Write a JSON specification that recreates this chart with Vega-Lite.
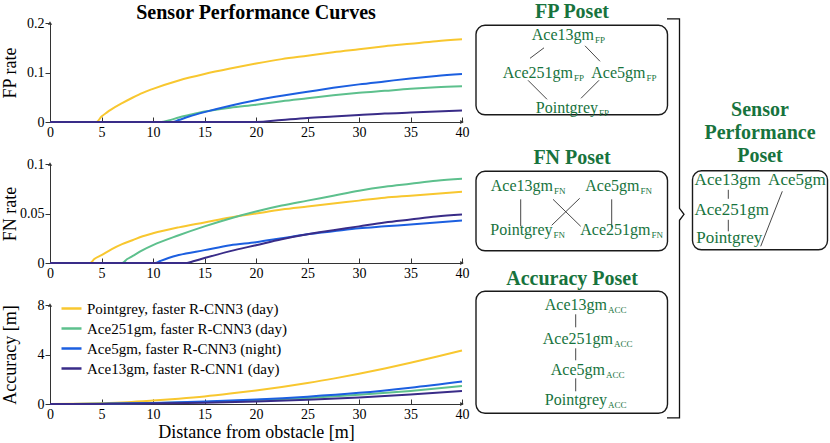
{
  "$schema": "https://vega.github.io/schema/vega-lite/v6.json",
  "padding": {"left": 0, "right": 0, "top": 2, "bottom": 0},
  "background": "#ffffff",
  "config": {
    "view": {"stroke": null},
    "axis": {"labelFont": "Liberation Serif", "titleFont": "Liberation Serif", "labelFontSize": 14, "titleFontSize": 18, "titleFontWeight": "normal", "grid": false, "domainColor": "#333333", "tickColor": "#333333", "labelColor": "#000000", "titleColor": "#000000", "labelOverlap": false}
  },
  "datasets": {
    "fp": [
      {"s": "Pointgrey, faster R-CNN3 (day)", "d": 0, "v": 0}, {"s": "Pointgrey, faster R-CNN3 (day)", "d": 4.5, "v": 0}, {"s": "Pointgrey, faster R-CNN3 (day)", "d": 5, "v": 0.011}, {"s": "Pointgrey, faster R-CNN3 (day)", "d": 5.5, "v": 0.019}, {"s": "Pointgrey, faster R-CNN3 (day)", "d": 6, "v": 0.026}, {"s": "Pointgrey, faster R-CNN3 (day)", "d": 7, "v": 0.038}, {"s": "Pointgrey, faster R-CNN3 (day)", "d": 8, "v": 0.049}, {"s": "Pointgrey, faster R-CNN3 (day)", "d": 9, "v": 0.059}, {"s": "Pointgrey, faster R-CNN3 (day)", "d": 10, "v": 0.067}, {"s": "Pointgrey, faster R-CNN3 (day)", "d": 12.5, "v": 0.084}, {"s": "Pointgrey, faster R-CNN3 (day)", "d": 15, "v": 0.097}, {"s": "Pointgrey, faster R-CNN3 (day)", "d": 17.5, "v": 0.108}, {"s": "Pointgrey, faster R-CNN3 (day)", "d": 20, "v": 0.118}, {"s": "Pointgrey, faster R-CNN3 (day)", "d": 22.5, "v": 0.127}, {"s": "Pointgrey, faster R-CNN3 (day)", "d": 25, "v": 0.134}, {"s": "Pointgrey, faster R-CNN3 (day)", "d": 27.5, "v": 0.141}, {"s": "Pointgrey, faster R-CNN3 (day)", "d": 30, "v": 0.147}, {"s": "Pointgrey, faster R-CNN3 (day)", "d": 32.5, "v": 0.153}, {"s": "Pointgrey, faster R-CNN3 (day)", "d": 35, "v": 0.158}, {"s": "Pointgrey, faster R-CNN3 (day)", "d": 37.5, "v": 0.163}, {"s": "Pointgrey, faster R-CNN3 (day)", "d": 40, "v": 0.167},
      {"s": "Ace251gm, faster R-CNN3 (day)", "d": 0, "v": 0}, {"s": "Ace251gm, faster R-CNN3 (day)", "d": 10.8, "v": 0}, {"s": "Ace251gm, faster R-CNN3 (day)", "d": 11.5, "v": 0.003}, {"s": "Ace251gm, faster R-CNN3 (day)", "d": 12.5, "v": 0.009}, {"s": "Ace251gm, faster R-CNN3 (day)", "d": 13.5, "v": 0.014}, {"s": "Ace251gm, faster R-CNN3 (day)", "d": 15, "v": 0.021}, {"s": "Ace251gm, faster R-CNN3 (day)", "d": 17.5, "v": 0.029}, {"s": "Ace251gm, faster R-CNN3 (day)", "d": 20, "v": 0.035}, {"s": "Ace251gm, faster R-CNN3 (day)", "d": 22.5, "v": 0.042}, {"s": "Ace251gm, faster R-CNN3 (day)", "d": 25, "v": 0.048}, {"s": "Ace251gm, faster R-CNN3 (day)", "d": 27.5, "v": 0.054}, {"s": "Ace251gm, faster R-CNN3 (day)", "d": 30, "v": 0.059}, {"s": "Ace251gm, faster R-CNN3 (day)", "d": 32.5, "v": 0.063}, {"s": "Ace251gm, faster R-CNN3 (day)", "d": 35, "v": 0.067}, {"s": "Ace251gm, faster R-CNN3 (day)", "d": 37.5, "v": 0.07}, {"s": "Ace251gm, faster R-CNN3 (day)", "d": 40, "v": 0.072},
      {"s": "Ace5gm, faster R-CNN3 (night)", "d": 0, "v": 0}, {"s": "Ace5gm, faster R-CNN3 (night)", "d": 11.9, "v": 0}, {"s": "Ace5gm, faster R-CNN3 (night)", "d": 12.5, "v": 0.004}, {"s": "Ace5gm, faster R-CNN3 (night)", "d": 13.5, "v": 0.011}, {"s": "Ace5gm, faster R-CNN3 (night)", "d": 15, "v": 0.02}, {"s": "Ace5gm, faster R-CNN3 (night)", "d": 17.5, "v": 0.033}, {"s": "Ace5gm, faster R-CNN3 (night)", "d": 20, "v": 0.044}, {"s": "Ace5gm, faster R-CNN3 (night)", "d": 22.5, "v": 0.053}, {"s": "Ace5gm, faster R-CNN3 (night)", "d": 25, "v": 0.061}, {"s": "Ace5gm, faster R-CNN3 (night)", "d": 27.5, "v": 0.069}, {"s": "Ace5gm, faster R-CNN3 (night)", "d": 30, "v": 0.076}, {"s": "Ace5gm, faster R-CNN3 (night)", "d": 32.5, "v": 0.082}, {"s": "Ace5gm, faster R-CNN3 (night)", "d": 35, "v": 0.088}, {"s": "Ace5gm, faster R-CNN3 (night)", "d": 37.5, "v": 0.093}, {"s": "Ace5gm, faster R-CNN3 (night)", "d": 40, "v": 0.097},
      {"s": "Ace13gm, faster R-CNN1 (day)", "d": 0, "v": 0}, {"s": "Ace13gm, faster R-CNN1 (day)", "d": 20, "v": 0}, {"s": "Ace13gm, faster R-CNN1 (day)", "d": 22.5, "v": 0.004}, {"s": "Ace13gm, faster R-CNN1 (day)", "d": 25, "v": 0.008}, {"s": "Ace13gm, faster R-CNN1 (day)", "d": 27.5, "v": 0.011}, {"s": "Ace13gm, faster R-CNN1 (day)", "d": 30, "v": 0.014}, {"s": "Ace13gm, faster R-CNN1 (day)", "d": 32.5, "v": 0.017}, {"s": "Ace13gm, faster R-CNN1 (day)", "d": 35, "v": 0.019}, {"s": "Ace13gm, faster R-CNN1 (day)", "d": 37.5, "v": 0.021}, {"s": "Ace13gm, faster R-CNN1 (day)", "d": 40, "v": 0.023}
    ],
    "fn": [
      {"s": "Pointgrey, faster R-CNN3 (day)", "d": 0, "v": 0}, {"s": "Pointgrey, faster R-CNN3 (day)", "d": 3.9, "v": 0}, {"s": "Pointgrey, faster R-CNN3 (day)", "d": 4.3, "v": 0.004}, {"s": "Pointgrey, faster R-CNN3 (day)", "d": 5, "v": 0.008}, {"s": "Pointgrey, faster R-CNN3 (day)", "d": 6, "v": 0.014}, {"s": "Pointgrey, faster R-CNN3 (day)", "d": 7, "v": 0.019}, {"s": "Pointgrey, faster R-CNN3 (day)", "d": 8, "v": 0.023}, {"s": "Pointgrey, faster R-CNN3 (day)", "d": 9, "v": 0.027}, {"s": "Pointgrey, faster R-CNN3 (day)", "d": 10, "v": 0.03}, {"s": "Pointgrey, faster R-CNN3 (day)", "d": 12.5, "v": 0.036}, {"s": "Pointgrey, faster R-CNN3 (day)", "d": 15, "v": 0.041}, {"s": "Pointgrey, faster R-CNN3 (day)", "d": 17.5, "v": 0.046}, {"s": "Pointgrey, faster R-CNN3 (day)", "d": 20, "v": 0.05}, {"s": "Pointgrey, faster R-CNN3 (day)", "d": 22.5, "v": 0.054}, {"s": "Pointgrey, faster R-CNN3 (day)", "d": 25, "v": 0.057}, {"s": "Pointgrey, faster R-CNN3 (day)", "d": 27.5, "v": 0.06}, {"s": "Pointgrey, faster R-CNN3 (day)", "d": 30, "v": 0.063}, {"s": "Pointgrey, faster R-CNN3 (day)", "d": 32.5, "v": 0.066}, {"s": "Pointgrey, faster R-CNN3 (day)", "d": 35, "v": 0.068}, {"s": "Pointgrey, faster R-CNN3 (day)", "d": 37.5, "v": 0.07}, {"s": "Pointgrey, faster R-CNN3 (day)", "d": 40, "v": 0.072},
      {"s": "Ace251gm, faster R-CNN3 (day)", "d": 0, "v": 0}, {"s": "Ace251gm, faster R-CNN3 (day)", "d": 7, "v": 0}, {"s": "Ace251gm, faster R-CNN3 (day)", "d": 7.5, "v": 0.004}, {"s": "Ace251gm, faster R-CNN3 (day)", "d": 8, "v": 0.007}, {"s": "Ace251gm, faster R-CNN3 (day)", "d": 9, "v": 0.013}, {"s": "Ace251gm, faster R-CNN3 (day)", "d": 10, "v": 0.018}, {"s": "Ace251gm, faster R-CNN3 (day)", "d": 12.5, "v": 0.028}, {"s": "Ace251gm, faster R-CNN3 (day)", "d": 15, "v": 0.037}, {"s": "Ace251gm, faster R-CNN3 (day)", "d": 17.5, "v": 0.045}, {"s": "Ace251gm, faster R-CNN3 (day)", "d": 20, "v": 0.052}, {"s": "Ace251gm, faster R-CNN3 (day)", "d": 22.5, "v": 0.058}, {"s": "Ace251gm, faster R-CNN3 (day)", "d": 25, "v": 0.063}, {"s": "Ace251gm, faster R-CNN3 (day)", "d": 27.5, "v": 0.068}, {"s": "Ace251gm, faster R-CNN3 (day)", "d": 30, "v": 0.073}, {"s": "Ace251gm, faster R-CNN3 (day)", "d": 32.5, "v": 0.077}, {"s": "Ace251gm, faster R-CNN3 (day)", "d": 35, "v": 0.08}, {"s": "Ace251gm, faster R-CNN3 (day)", "d": 37.5, "v": 0.083}, {"s": "Ace251gm, faster R-CNN3 (day)", "d": 40, "v": 0.085},
      {"s": "Ace5gm, faster R-CNN3 (night)", "d": 0, "v": 0}, {"s": "Ace5gm, faster R-CNN3 (night)", "d": 10.2, "v": 0}, {"s": "Ace5gm, faster R-CNN3 (night)", "d": 10.7, "v": 0.002}, {"s": "Ace5gm, faster R-CNN3 (night)", "d": 11.5, "v": 0.005}, {"s": "Ace5gm, faster R-CNN3 (night)", "d": 12.5, "v": 0.008}, {"s": "Ace5gm, faster R-CNN3 (night)", "d": 15, "v": 0.013}, {"s": "Ace5gm, faster R-CNN3 (night)", "d": 17.5, "v": 0.018}, {"s": "Ace5gm, faster R-CNN3 (night)", "d": 20, "v": 0.021}, {"s": "Ace5gm, faster R-CNN3 (night)", "d": 22.5, "v": 0.025}, {"s": "Ace5gm, faster R-CNN3 (night)", "d": 25, "v": 0.029}, {"s": "Ace5gm, faster R-CNN3 (night)", "d": 27.5, "v": 0.032}, {"s": "Ace5gm, faster R-CNN3 (night)", "d": 30, "v": 0.035}, {"s": "Ace5gm, faster R-CNN3 (night)", "d": 32.5, "v": 0.037}, {"s": "Ace5gm, faster R-CNN3 (night)", "d": 35, "v": 0.039}, {"s": "Ace5gm, faster R-CNN3 (night)", "d": 37.5, "v": 0.041}, {"s": "Ace5gm, faster R-CNN3 (night)", "d": 40, "v": 0.043},
      {"s": "Ace13gm, faster R-CNN1 (day)", "d": 0, "v": 0}, {"s": "Ace13gm, faster R-CNN1 (day)", "d": 13.3, "v": 0}, {"s": "Ace13gm, faster R-CNN1 (day)", "d": 14, "v": 0.002}, {"s": "Ace13gm, faster R-CNN1 (day)", "d": 15, "v": 0.005}, {"s": "Ace13gm, faster R-CNN1 (day)", "d": 17.5, "v": 0.012}, {"s": "Ace13gm, faster R-CNN1 (day)", "d": 20, "v": 0.018}, {"s": "Ace13gm, faster R-CNN1 (day)", "d": 22.5, "v": 0.024}, {"s": "Ace13gm, faster R-CNN1 (day)", "d": 25, "v": 0.029}, {"s": "Ace13gm, faster R-CNN1 (day)", "d": 27.5, "v": 0.033}, {"s": "Ace13gm, faster R-CNN1 (day)", "d": 30, "v": 0.037}, {"s": "Ace13gm, faster R-CNN1 (day)", "d": 32.5, "v": 0.041}, {"s": "Ace13gm, faster R-CNN1 (day)", "d": 35, "v": 0.044}, {"s": "Ace13gm, faster R-CNN1 (day)", "d": 37.5, "v": 0.047}, {"s": "Ace13gm, faster R-CNN1 (day)", "d": 40, "v": 0.049}
    ],
    "acc": [
      {"s": "Pointgrey, faster R-CNN3 (day)", "d": 0, "v": 0}, {"s": "Pointgrey, faster R-CNN3 (day)", "d": 2.5, "v": 0.02}, {"s": "Pointgrey, faster R-CNN3 (day)", "d": 5, "v": 0.07}, {"s": "Pointgrey, faster R-CNN3 (day)", "d": 7.5, "v": 0.15}, {"s": "Pointgrey, faster R-CNN3 (day)", "d": 10, "v": 0.28}, {"s": "Pointgrey, faster R-CNN3 (day)", "d": 12.5, "v": 0.43}, {"s": "Pointgrey, faster R-CNN3 (day)", "d": 15, "v": 0.61}, {"s": "Pointgrey, faster R-CNN3 (day)", "d": 17.5, "v": 0.84}, {"s": "Pointgrey, faster R-CNN3 (day)", "d": 20, "v": 1.1}, {"s": "Pointgrey, faster R-CNN3 (day)", "d": 22.5, "v": 1.38}, {"s": "Pointgrey, faster R-CNN3 (day)", "d": 25, "v": 1.7}, {"s": "Pointgrey, faster R-CNN3 (day)", "d": 27.5, "v": 2.05}, {"s": "Pointgrey, faster R-CNN3 (day)", "d": 30, "v": 2.44}, {"s": "Pointgrey, faster R-CNN3 (day)", "d": 32.5, "v": 2.87}, {"s": "Pointgrey, faster R-CNN3 (day)", "d": 35, "v": 3.33}, {"s": "Pointgrey, faster R-CNN3 (day)", "d": 37.5, "v": 3.82}, {"s": "Pointgrey, faster R-CNN3 (day)", "d": 40, "v": 4.33},
      {"s": "Ace251gm, faster R-CNN3 (day)", "d": 0, "v": 0}, {"s": "Ace251gm, faster R-CNN3 (day)", "d": 5, "v": 0.02}, {"s": "Ace251gm, faster R-CNN3 (day)", "d": 10, "v": 0.08}, {"s": "Ace251gm, faster R-CNN3 (day)", "d": 15, "v": 0.17}, {"s": "Ace251gm, faster R-CNN3 (day)", "d": 20, "v": 0.31}, {"s": "Ace251gm, faster R-CNN3 (day)", "d": 25, "v": 0.49}, {"s": "Ace251gm, faster R-CNN3 (day)", "d": 30, "v": 0.74}, {"s": "Ace251gm, faster R-CNN3 (day)", "d": 35, "v": 1.06}, {"s": "Ace251gm, faster R-CNN3 (day)", "d": 40, "v": 1.45},
      {"s": "Ace5gm, faster R-CNN3 (night)", "d": 0, "v": 0}, {"s": "Ace5gm, faster R-CNN3 (night)", "d": 5, "v": 0.02}, {"s": "Ace5gm, faster R-CNN3 (night)", "d": 10, "v": 0.09}, {"s": "Ace5gm, faster R-CNN3 (night)", "d": 15, "v": 0.2}, {"s": "Ace5gm, faster R-CNN3 (night)", "d": 20, "v": 0.36}, {"s": "Ace5gm, faster R-CNN3 (night)", "d": 25, "v": 0.59}, {"s": "Ace5gm, faster R-CNN3 (night)", "d": 30, "v": 0.9}, {"s": "Ace5gm, faster R-CNN3 (night)", "d": 35, "v": 1.32}, {"s": "Ace5gm, faster R-CNN3 (night)", "d": 40, "v": 1.82},
      {"s": "Ace13gm, faster R-CNN1 (day)", "d": 0, "v": 0}, {"s": "Ace13gm, faster R-CNN1 (day)", "d": 5, "v": 0.01}, {"s": "Ace13gm, faster R-CNN1 (day)", "d": 10, "v": 0.05}, {"s": "Ace13gm, faster R-CNN1 (day)", "d": 15, "v": 0.11}, {"s": "Ace13gm, faster R-CNN1 (day)", "d": 20, "v": 0.21}, {"s": "Ace13gm, faster R-CNN1 (day)", "d": 25, "v": 0.35}, {"s": "Ace13gm, faster R-CNN1 (day)", "d": 30, "v": 0.53}, {"s": "Ace13gm, faster R-CNN1 (day)", "d": 35, "v": 0.77}, {"s": "Ace13gm, faster R-CNN1 (day)", "d": 40, "v": 1.05}
    ]
  },
  "spacing": 0,
  "hconcat": [
    {
      "bounds": "flush",
      "spacing": 42,
      "resolve": {"scale": {"color": "independent"}, "legend": {"color": "independent"}},
      "vconcat": [
        {
          "width": 412, "height": 99,
          "title": {"text": "Sensor Performance Curves", "font": "Liberation Serif", "fontSize": 20, "fontWeight": "bold", "anchor": "middle", "offset": -7, "color": "#000000"},
          "layer": [
            {"data": {"name": "fp"}, "mark": {"type": "line", "strokeWidth": 2, "interpolate": "monotone"},
             "encoding": {
               "x": {"field": "d", "type": "quantitative", "scale": {"domain": [0, 40], "nice": false}, "axis": {"values": [0, 5, 10, 15, 20, 25, 30, 35, 40], "title": null, "tickSize": -5, "labelPadding": 8, "labelFlush": false}},
               "y": {"field": "v", "type": "quantitative", "scale": {"domain": [0, 0.2], "nice": false}, "axis": {"values": [0, 0.05, 0.1, 0.15, 0.2], "format": "~g", "title": "FP rate", "tickSize": 5, "labelPadding": 1, "labelFlush": false, "titleX": -35, "titleY": 49.5, "titleBaseline": "alphabetic", "titleAlign": "center", "titleAngle": -90}},
               "color": {"field": "s", "type": "nominal", "scale": {"domain": ["Pointgrey, faster R-CNN3 (day)", "Ace251gm, faster R-CNN3 (day)", "Ace5gm, faster R-CNN3 (night)", "Ace13gm, faster R-CNN1 (day)"], "range": ["#F8C72F", "#5DC08D", "#1C5FE0", "#392C88"]}, "legend": null}
             }},
            {"data": {"values": [{"d": 0, "v": 0.2}]}, "mark": {"type": "point", "shape": "triangle-up", "filled": true, "color": "#333333", "size": 18, "opacity": 1}, "encoding": {"x": {"field": "d", "type": "quantitative"}, "y": {"field": "v", "type": "quantitative"}}},
            {"data": {"values": [{"d": 40, "v": 0}]}, "mark": {"type": "point", "shape": "triangle-right", "filled": true, "color": "#333333", "size": 18, "opacity": 1}, "encoding": {"x": {"field": "d", "type": "quantitative"}, "y": {"field": "v", "type": "quantitative"}}}
          ]
        },
        {
          "width": 412, "height": 99,
          "layer": [
            {"data": {"name": "fn"}, "mark": {"type": "line", "strokeWidth": 2, "interpolate": "monotone"},
             "encoding": {
               "x": {"field": "d", "type": "quantitative", "scale": {"domain": [0, 40], "nice": false}, "axis": {"values": [0, 5, 10, 15, 20, 25, 30, 35, 40], "title": null, "tickSize": -5, "labelPadding": 8, "labelFlush": false}},
               "y": {"field": "v", "type": "quantitative", "scale": {"domain": [0, 0.1], "nice": false}, "axis": {"values": [0, 0.05, 0.1], "format": "~g", "title": "FN rate", "tickSize": 5, "labelPadding": 1, "labelFlush": false, "titleX": -35, "titleY": 49.5, "titleBaseline": "alphabetic", "titleAlign": "center", "titleAngle": -90}},
               "color": {"field": "s", "type": "nominal", "scale": {"domain": ["Pointgrey, faster R-CNN3 (day)", "Ace251gm, faster R-CNN3 (day)", "Ace5gm, faster R-CNN3 (night)", "Ace13gm, faster R-CNN1 (day)"], "range": ["#F8C72F", "#5DC08D", "#1C5FE0", "#392C88"]}, "legend": null}
             }},
            {"data": {"values": [{"d": 0, "v": 0.1}]}, "mark": {"type": "point", "shape": "triangle-up", "filled": true, "color": "#333333", "size": 18, "opacity": 1}, "encoding": {"x": {"field": "d", "type": "quantitative"}, "y": {"field": "v", "type": "quantitative"}}},
            {"data": {"values": [{"d": 40, "v": 0}]}, "mark": {"type": "point", "shape": "triangle-right", "filled": true, "color": "#333333", "size": 18, "opacity": 1}, "encoding": {"x": {"field": "d", "type": "quantitative"}, "y": {"field": "v", "type": "quantitative"}}}
          ]
        },
        {
          "width": 412, "height": 99,
          "layer": [
            {"data": {"name": "acc"}, "mark": {"type": "line", "strokeWidth": 2, "interpolate": "monotone"},
             "encoding": {
               "x": {"field": "d", "type": "quantitative", "scale": {"domain": [0, 40], "nice": false}, "axis": {"values": [0, 5, 10, 15, 20, 25, 30, 35, 40], "title": "Distance from obstacle [m]", "titlePadding": 2, "tickSize": -5, "labelPadding": 8, "labelFlush": false}},
               "y": {"field": "v", "type": "quantitative", "scale": {"domain": [0, 8], "nice": false}, "axis": {"values": [0, 2, 4, 6, 8], "format": "~g", "title": "Accuracy [m]", "tickSize": 5, "labelPadding": 1, "labelFlush": false, "titleX": -35, "titleY": 49.5, "titleBaseline": "alphabetic", "titleAlign": "center", "titleAngle": -90}},
               "color": {"field": "s", "type": "nominal", "scale": {"domain": ["Pointgrey, faster R-CNN3 (day)", "Ace251gm, faster R-CNN3 (day)", "Ace5gm, faster R-CNN3 (night)", "Ace13gm, faster R-CNN1 (day)"], "range": ["#F8C72F", "#5DC08D", "#1C5FE0", "#392C88"]},
                 "legend": {"orient": "none", "legendX": 10, "legendY": -8, "title": null, "symbolType": "stroke", "symbolSize": 400, "symbolStrokeWidth": 2.5, "labelFont": "Liberation Serif", "labelFontSize": 15, "labelColor": "#000000", "rowPadding": 0, "labelOffset": 4, "padding": 0, "labelLimit": 300}}
             }},
            {"data": {"values": [{"d": 0, "v": 8}]}, "mark": {"type": "point", "shape": "triangle-up", "filled": true, "color": "#333333", "size": 18, "opacity": 1}, "encoding": {"x": {"field": "d", "type": "quantitative"}, "y": {"field": "v", "type": "quantitative"}}},
            {"data": {"values": [{"d": 40, "v": 0}]}, "mark": {"type": "point", "shape": "triangle-right", "filled": true, "color": "#333333", "size": 18, "opacity": 1}, "encoding": {"x": {"field": "d", "type": "quantitative"}, "y": {"field": "v", "type": "quantitative"}}}
          ]
        }
      ]
    },
    {
      "width": 360, "height": 380,
      "encoding": {
        "x": {"field": "x", "type": "quantitative", "scale": {"domain": [470, 830], "nice": false, "zero": false}, "axis": null},
        "y": {"field": "y", "type": "quantitative", "scale": {"domain": [21.7, 401.7], "nice": false, "zero": false, "reverse": true}, "axis": null}
      },
      "layer": [
        {"data": {"values": [
          {"box": "FP", "x": 477, "x2": 668.5, "y": 24, "y2": 113.5},
          {"box": "FN", "x": 477, "x2": 668.5, "y": 170, "y2": 249.5},
          {"box": "ACC", "x": 477, "x2": 668.5, "y": 290, "y2": 412},
          {"box": "SP", "x": 693.5, "x2": 828.5, "y": 169.5, "y2": 248.5}
         ]},
         "mark": {"type": "rect", "fill": "#ffffff", "fillOpacity": 0, "stroke": "#1a1a1a", "strokeWidth": 1.4, "cornerRadius": 9},
         "encoding": {"x2": {"field": "x2"}, "y2": {"field": "y2"}}},
        {"data": {"values": [
          {"x": 545, "y": 46.5, "x2": 531, "y2": 57},
          {"x": 586, "y": 44.5, "x2": 601, "y2": 60},
          {"x": 529, "y": 79, "x2": 548, "y2": 98},
          {"x": 600, "y": 79, "x2": 582, "y2": 97},
          {"x": 521.7, "y": 198, "x2": 521.7, "y2": 225},
          {"x": 612.7, "y": 198, "x2": 612.7, "y2": 226},
          {"x": 554, "y": 198, "x2": 581.7, "y2": 225},
          {"x": 580.7, "y": 197, "x2": 552.7, "y2": 224},
          {"x": 576.7, "y": 313, "x2": 576.7, "y2": 326},
          {"x": 576.7, "y": 347, "x2": 576.7, "y2": 359},
          {"x": 576.7, "y": 377, "x2": 576.7, "y2": 390},
          {"x": 729.3, "y": 188.5, "x2": 729.3, "y2": 197.5},
          {"x": 729.3, "y": 218.5, "x2": 729.3, "y2": 230},
          {"x": 783.3, "y": 190, "x2": 761.7, "y2": 245}
         ]},
         "mark": {"type": "rule", "color": "#333333", "strokeWidth": 0.9},
         "encoding": {"x2": {"field": "x2"}, "y2": {"field": "y2"}}},
        {"data": {"values": [
          {"o": 1, "x": 668, "y": 17.5}, {"o": 2, "x": 680.5, "y": 17.5}, {"o": 3, "x": 680.5, "y": 207}, {"o": 4, "x": 685, "y": 213}, {"o": 5, "x": 680.5, "y": 219}, {"o": 6, "x": 680.5, "y": 416.5}, {"o": 7, "x": 668, "y": 416.5}
         ]},
         "mark": {"type": "line", "color": "#111111", "strokeWidth": 1.3},
         "encoding": {"order": {"field": "o", "type": "quantitative"}}},
        {"data": {"values": [
          {"t": "FP Poset", "x": 573, "y": 16.7},
          {"t": "FN Poset", "x": 573, "y": 162.7},
          {"t": "Accuracy Poset", "x": 573, "y": 283.5},
          {"t": "Sensor", "x": 761, "y": 114.3},
          {"t": "Performance", "x": 761, "y": 137.7},
          {"t": "Poset", "x": 761, "y": 161}
         ]},
         "mark": {"type": "text", "font": "Liberation Serif", "fontSize": 20, "fontWeight": "bold", "color": "#17733d", "align": "center", "baseline": "alphabetic"},
         "encoding": {"text": {"field": "t"}}},
        {"data": {"values": [
          {"label": "Ace13gm", "sub": "FP", "x": 595, "y": 39},
          {"label": "Ace251gm", "sub": "FP", "x": 574, "y": 76.3},
          {"label": "Ace5gm", "sub": "FP", "x": 646.5, "y": 76.3},
          {"label": "Pointgrey", "sub": "FP", "x": 599, "y": 111.5},
          {"label": "Ace13gm", "sub": "FN", "x": 554, "y": 190},
          {"label": "Ace5gm", "sub": "FN", "x": 640.5, "y": 190},
          {"label": "Pointgrey", "sub": "FN", "x": 553.5, "y": 233.5},
          {"label": "Ace251gm", "sub": "FN", "x": 651.5, "y": 233.5},
          {"label": "Ace13gm", "sub": "ACC", "x": 608, "y": 309},
          {"label": "Ace251gm", "sub": "ACC", "x": 614, "y": 342.3},
          {"label": "Ace5gm", "sub": "ACC", "x": 606, "y": 373.3},
          {"label": "Pointgrey", "sub": "ACC", "x": 608, "y": 404}
         ]},
         "layer": [
           {"mark": {"type": "text", "font": "Liberation Serif", "fontSize": 16, "color": "#17733d", "align": "right", "baseline": "alphabetic"},
            "encoding": {"text": {"field": "label"}}},
           {"mark": {"type": "text", "font": "Liberation Serif", "fontSize": 9, "color": "#17733d", "align": "left", "baseline": "alphabetic", "dx": 1, "dy": 3},
            "encoding": {"text": {"field": "sub"}}}
         ]},
        {"data": {"values": [
          {"label": "Ace13gm", "x": 761.7, "y": 184},
          {"label": "Ace5gm", "x": 826.7, "y": 184},
          {"label": "Ace251gm", "x": 770, "y": 214},
          {"label": "Pointgrey", "x": 763.3, "y": 242}
         ]},
         "mark": {"type": "text", "font": "Liberation Serif", "fontSize": 17, "color": "#17733d", "align": "right", "baseline": "alphabetic"},
         "encoding": {"text": {"field": "label"}}}
      ]
    }
  ]
}
